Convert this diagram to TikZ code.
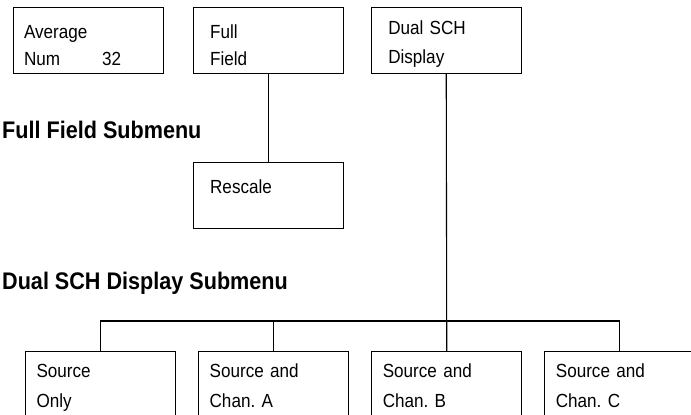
\documentclass[tikz,border=0pt]{standalone}
\usepackage{fontspec}
\setmainfont{Liberation Sans}[FakeStretch=0.9]
\usetikzlibrary{positioning}

\begin{document}
\begin{tikzpicture}[
    x=1pt, y=-1pt,
    menubox/.style={rectangle, draw=black, line width=1.1pt, minimum width=150pt, minimum height=66pt, text width=128pt, inner xsep=11pt, inner ysep=0pt, align=left, anchor=north west, font=\fontsize{19}{27}\selectfont, execute at begin node={\rule{0pt}{#1}}, execute at end node={\rule[-4pt]{0pt}{4pt}}},
    menubox/.default=27pt,
    wideinset/.style={inner xsep=17pt, text width=116pt},
    sublabel/.style={anchor=base west, inner sep=0pt, font=\fontsize{24}{28}\selectfont\bfseries},
    link/.style={draw=black, line width=1.1pt}
]
\useasboundingbox (0,0) rectangle (691,415);
\clip (0,0) rectangle (691,415);
% top menu row
\node[menubox] (avgnum) at (12.5,7) {Average\\Num\hspace{42pt}32};
\node[menubox, wideinset, right=29pt of avgnum] (fullfield) {Full\\Field};
\node[menubox=21pt, wideinset, font=\fontsize{19}{29}\selectfont, right=27pt of fullfield] (dualsch) {Dual SCH\\Display};
% submenus
\node[sublabel] (fflabel) at (2,138) {Full Field Submenu};
\node[menubox, wideinset, below=88pt of fullfield] (rescale) {Rescale\\\mbox{}};
\node[sublabel] (dslabel) at (2,289) {Dual SCH Display Submenu};
\node[menubox=20pt, font=\fontsize{19}{30}\selectfont] (srconly) at (25,351) {Source\\Only};
\node[menubox=20pt, font=\fontsize{19}{30}\selectfont, right=22pt of srconly] (srcchana) {Source and\\Chan.\ A};
\node[menubox=20pt, font=\fontsize{19}{30}\selectfont, right=22pt of srcchana] (srcchanb) {Source and\\Chan.\ B};
\node[menubox=20pt, font=\fontsize{19}{30}\selectfont, right=22pt of srcchanb] (srcchanc) {Source and\\Chan.\ C};
% connectors
\coordinate (bar) at (0,321);
\draw[link] (fullfield.south) -- (fullfield.south |- rescale.north);
\draw[link] (dualsch.south) -- (srcchanb.north);
\draw[link] (srconly.north) |- (bar -| srcchanc.north) -- (srcchanc.north);
\draw[link] (srcchana.north) -- (srcchana.north |- bar);
\end{tikzpicture}
\end{document}
